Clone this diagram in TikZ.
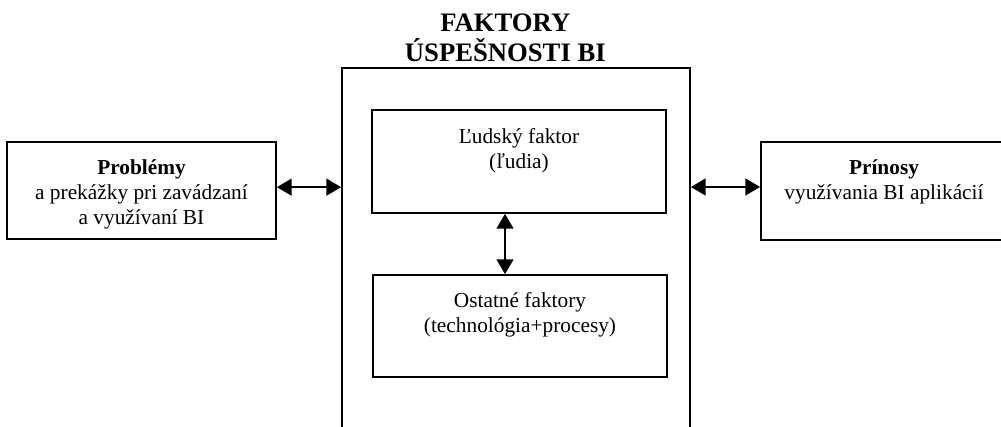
\documentclass[tikz,border=0pt]{standalone}
\usepackage{fontspec}
\setmainfont{Liberation Serif}
\usetikzlibrary{positioning,arrows.meta}
\tikzset{>={Triangle[length=11pt,width=12.5pt]}}
\tikzset{box/.style={draw,line width=1.3pt,inner sep=0pt},
  txt/.style={align=center,inner sep=0pt,font=\fontsize{16}{18.5}\selectfont},
  ttl/.style={align=center,inner sep=0pt,font=\bfseries\fontsize{20}{22}\selectfont}}

\begin{document}
\begin{tikzpicture}[x=.75pt,y=.75pt]
\useasboundingbox (0,0) rectangle (1001,427);
% main frame, open at the bottom
\node[box,minimum width=261pt,minimum height=280.5pt] (big) at (516,172) {};
\node[ttl,above=4pt of big.north,xshift=-8pt] (title) {FAKTORY\\ÚSPEŠNOSTI BI};
% side boxes
\node[box,minimum width=201.75pt,minimum height=72.75pt] (prob) at (141.5,236.5) {};
\node[box,minimum width=184.5pt,minimum height=73.5pt] (prin) at (884,236) {};
\node[txt,below=14pt of prob.north] (probtxt) {\textbf{Problémy}\\a prekážky pri zavádzaní\\a využívaní BI};
\node[txt,below=14pt of prin.north] (printxt) {\textbf{Prínosy}\\využívania BI aplikácií};
% inner boxes
\node[box,minimum width=220.5pt,minimum height=77.25pt] (ludia) at (519,265.5) {};
\node[box,minimum width=220.5pt,minimum height=76.5pt] (ostatne) at (520,101) {};
\node[txt,below=14.5pt of ludia.north] (ludiatxt) {Ľudský faktor\\(ľudia)};
\node[txt,below=13.5pt of ostatne.north] (ostatnetxt) {Ostatné faktory\\(technológia+procesy)};
% arrows
\draw[<->,line width=1.5pt] ([yshift=2.5pt]prob.east) -- ([yshift=2.5pt]prob.east -| big.west);
\draw[<->,line width=1.5pt] ([yshift=3pt]prin.west -| big.east) -- ([yshift=3pt]prin.west);
\draw[<->,line width=1.5pt] ([xshift=-10.5pt]ludia.south) -- ([xshift=-10.5pt]ludia.south |- ostatne.north);
\end{tikzpicture}
\end{document}
